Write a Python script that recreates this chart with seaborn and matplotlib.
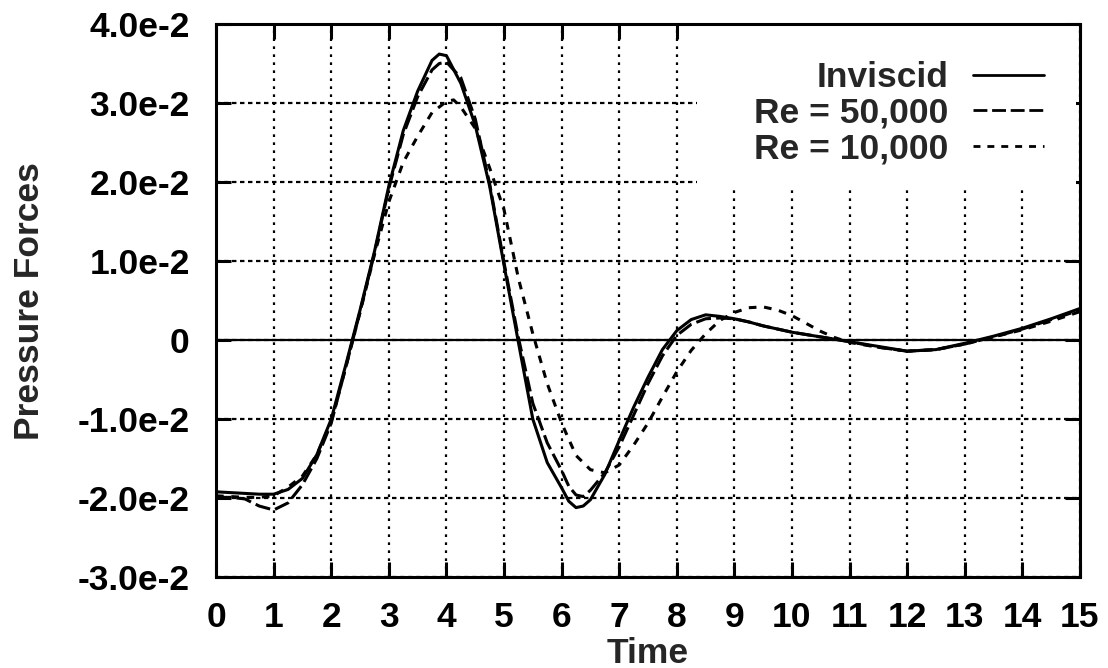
import numpy as np
import pandas as pd
import matplotlib
matplotlib.use("Agg")
import matplotlib.pyplot as plt
from matplotlib.patches import Rectangle
import seaborn as sns

# ---------------- data (pressure force in units of 1e-2) ----------------
t_inviscid = [0.0, 0.25, 0.5, 0.75, 1.0, 1.25, 1.5, 1.75, 2.0, 2.25, 2.5, 2.75,
              3.0, 3.25, 3.5, 3.75, 3.875, 4.0, 4.25, 4.5, 4.75, 5.0, 5.25, 5.5,
              5.75, 6.0, 6.125, 6.25, 6.375, 6.5, 6.75, 7.0, 7.25, 7.5, 7.75,
              8.0, 8.25, 8.5, 8.75, 9.0, 9.25, 9.5, 9.75, 10.0, 10.25, 10.5,
              10.75, 11.0, 11.5, 12.0, 12.5, 13.0, 13.5, 14.0, 14.5, 15.0]
f_inviscid = [-1.92, -1.93, -1.94, -1.95, -1.95, -1.89, -1.75, -1.45, -1.00,
              -0.32, 0.38, 1.12, 1.95, 2.65, 3.15, 3.54, 3.62, 3.60, 3.25,
              2.72, 1.95, 0.95, -0.03, -1.00, -1.55, -1.87, -2.04, -2.12,
              -2.10, -2.02, -1.70, -1.27, -0.85, -0.47, -0.12, 0.12, 0.26,
              0.32, 0.30, 0.27, 0.23, 0.18, 0.14, 0.10, 0.07, 0.04, 0.01,
              -0.02, -0.08, -0.14, -0.12, -0.04, 0.05, 0.15, 0.27, 0.40]

t_re50k = [0.0, 0.25, 0.5, 0.75, 1.0, 1.25, 1.5, 1.75, 2.0, 2.25, 2.5, 2.75,
           3.0, 3.25, 3.5, 3.75, 3.875, 4.0, 4.25, 4.5, 4.75, 5.0, 5.25, 5.5,
           5.75, 6.0, 6.125, 6.25, 6.375, 6.5, 6.75, 7.0, 7.25, 7.5, 7.75,
           8.0, 8.25, 8.5, 8.75, 9.0, 9.25, 9.5, 9.75, 10.0, 10.25, 10.5,
           10.75, 11.0, 11.5, 12.0, 12.5, 13.0, 13.5, 14.0, 14.5, 15.0]
f_re50k = [-1.99, -1.99, -2.01, -2.10, -2.15, -2.06, -1.83, -1.50, -1.05,
           -0.35, 0.36, 1.10, 1.92, 2.60, 3.08, 3.42, 3.50, 3.52, 3.32,
           2.80, 1.98, 0.98, 0.03, -0.80, -1.30, -1.65, -1.85, -1.96,
           -1.98, -1.90, -1.68, -1.35, -0.95, -0.55, -0.20, 0.06, 0.20,
           0.27, 0.28, 0.27, 0.23, 0.18, 0.14, 0.10, 0.07, 0.04, 0.01,
           -0.02, -0.09, -0.14, -0.12, -0.05, 0.04, 0.14, 0.26, 0.38]

t_re10k = [0.0, 0.25, 0.5, 0.75, 1.0, 1.25, 1.5, 1.75, 2.0, 2.25, 2.5, 2.75,
           3.0, 3.25, 3.5, 3.75, 4.0, 4.125, 4.25, 4.5, 4.75, 5.0, 5.25, 5.5,
           5.75, 6.0, 6.25, 6.5, 6.75, 7.0, 7.25, 7.5, 7.75, 8.0, 8.25, 8.5,
           8.75, 9.0, 9.25, 9.5, 9.75, 10.0, 10.25, 10.5, 10.75, 11.0, 11.5,
           12.0, 12.5, 13.0, 13.5, 14.0, 14.5, 15.0]
f_re10k = [-1.97, -1.98, -1.99, -1.99, -1.97, -1.86, -1.72, -1.45, -1.03,
           -0.35, 0.35, 1.08, 1.75, 2.25, 2.58, 2.88, 3.02, 3.04, 2.95,
           2.68, 2.18, 1.65, 0.78, 0.08, -0.55, -1.05, -1.46, -1.64, -1.68,
           -1.58, -1.33, -1.05, -0.72, -0.40, -0.13, 0.08, 0.25, 0.35, 0.41,
           0.42, 0.38, 0.31, 0.21, 0.11, 0.03, -0.03, -0.09, -0.14, -0.12,
           -0.05, 0.04, 0.13, 0.24, 0.36]

series_labels = ["Inviscid", "Re = 50,000", "Re = 10,000"]
x_ticks = list(range(0, 16))
y_ticks = [-3e-2, -2e-2, -1e-2, 0.0, 1e-2, 2e-2, 3e-2, 4e-2]
y_tick_labels = ["-3.0e-2", "-2.0e-2", "-1.0e-2", "0", "1.0e-2", "2.0e-2",
                 "3.0e-2", "4.0e-2"]
x_label = "Time"
y_label = "Pressure Forces"

# ---------------- styling ----------------
sns.set_style("ticks")
plt.rcParams["font.family"] = ["Liberation Sans", "DejaVu Sans"]
plt.rcParams["font.weight"] = "bold"
FS = 25.5

frames = []
for lab, t, f in zip(series_labels, [t_inviscid, t_re50k, t_re10k],
                     [f_inviscid, f_re50k, f_re10k]):
    frames.append(pd.DataFrame({"Time": t, "Force": np.array(f) * 1e-2, "case": lab}))
df = pd.concat(frames, ignore_index=True)

line_styles = {
    "Inviscid": "-",
    "Re = 50,000": (0, (5.0, 1.7)),
    "Re = 10,000": (0, (2.5, 2.5)),
}

fig = plt.figure(figsize=(11.08, 6.68), dpi=100)
ax = fig.add_axes([0.195, 0.136, 0.9747 - 0.195, 0.964 - 0.136])

for lab in series_labels:
    sub = df[df["case"] == lab]
    sns.lineplot(data=sub, x="Time", y="Force", ax=ax, color="black",
                 linewidth=2.2, linestyle=line_styles[lab], label=lab,
                 sort=False, estimator=None, zorder=3)

# zero axis
ax.axhline(0, color="black", linewidth=1.6, zorder=2)

# dotted grid
for xv in x_ticks:
    ax.axvline(xv, color="black", linewidth=1.6, linestyle=(0, (1.2, 2.4)),
               zorder=0.8)
for yv in y_ticks:
    ax.axhline(yv, color="black", linewidth=1.6, linestyle=(0, (2.0, 1.6)),
               zorder=0.8)

ax.set_xlim(0, 15)
ax.set_ylim(-3e-2, 4e-2)
ax.set_xticks(x_ticks)
ax.set_xticklabels([str(v) for v in x_ticks])
ax.set_yticks(y_ticks)
ax.set_yticklabels(y_tick_labels)

ax.tick_params(axis="both", direction="in", length=11, width=2.2,
               top=True, right=True, labelsize=FS, colors="black")
ax.tick_params(axis="x", pad=17)
ax.tick_params(axis="y", pad=19)
for lbl in ax.get_xticklabels() + ax.get_yticklabels():
    lbl.set_fontweight("bold")

for sp in ax.spines.values():
    sp.set_visible(True)
    sp.set_linewidth(2.2)
    sp.set_color("black")

ax.set_xlabel(x_label, fontsize=FS, fontweight="bold", labelpad=2)
ax.set_ylabel(y_label, fontsize=FS, fontweight="bold", labelpad=23)

# key area mask (gnuplot-style key blanking the grid)
ax.add_patch(Rectangle((0.557, 0.70), 0.438, 0.30, transform=ax.transAxes,
                       facecolor="white", edgecolor="none", zorder=1.2))

handles, labels = ax.get_legend_handles_labels()
leg = ax.legend(handles, labels, loc="upper right", bbox_to_anchor=(0.958, 0.933),
                frameon=False, markerfirst=False, handlelength=2.0,
                handletextpad=0.7, labelspacing=0.07, borderpad=0,
                borderaxespad=0, prop={"size": FS, "weight": "bold"})
for h in leg.get_lines():
    h.set_linewidth(2.0)

fig.savefig("out.png", dpi=100, facecolor="white")
